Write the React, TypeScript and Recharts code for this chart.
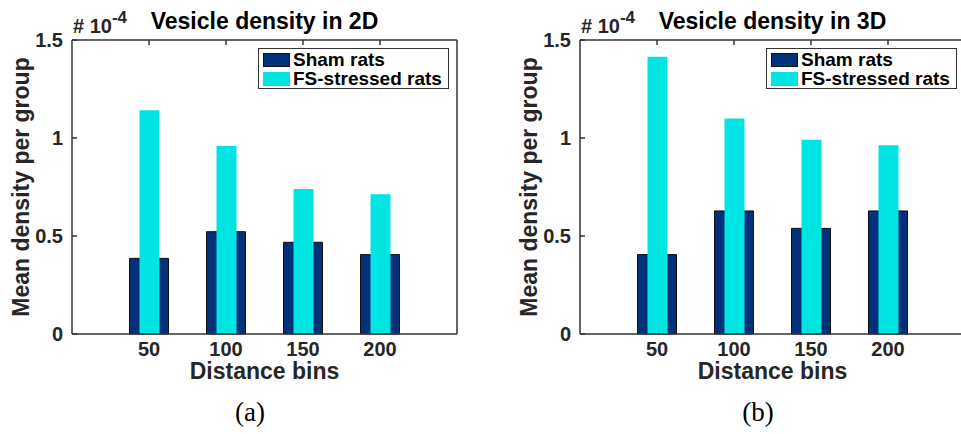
import { BarChart, Bar, XAxis, YAxis, Legend } from "recharts";

const bins = ["50", "100", "150", "200"];
const sham2D = [0.386, 0.522, 0.468, 0.405];
const fs2D = [1.141, 0.959, 0.74, 0.713];
const sham3D = [0.405, 0.628, 0.539, 0.628];
const fs3D = [1.415, 1.1, 0.991, 0.963];
const yTicks = [0, 0.5, 1, 1.5];
const seriesNames = ["Sham rats", "FS-stressed rats"];

const NAVY = "#02307a";
const CYAN = "#00e5e3";
const AXIS = "#333333";
const TEXT = "#262626";
const FONT = "'Liberation Sans', Arial, Helvetica, sans-serif";
const seriesColors = [NAVY, CYAN];

// legend drawn in MATLAB order (Recharts sorts the payload by name)
const LegendBox = () => (
	<div
		style={{
			borderWidth: 1,
			borderStyle: "solid",
			borderColor: AXIS,
			background: "#fff",
			padding: "2px 4px",
			fontFamily: FONT,
			fontWeight: "bold",
			fontSize: 19,
			color: "#000",
			boxSizing: "border-box",
			height: 41,
			width: 191,
		}}>
		{seriesNames.map((name, i) => (
			<div key={name} style={{ display: "flex", alignItems: "center", height: 18.5 }}>
				<span
					style={{
						display: "inline-block",
						width: 27,
						height: 14,
						background: seriesColors[i],
						borderWidth: i === 0 ? 1 : 0,
						borderStyle: "solid",
						borderColor: "#111",
						boxSizing: "border-box",
						marginRight: 3,
					}}
				/>
				<span style={{ lineHeight: "18px" }}>{name}</span>
			</div>
		))}
	</div>
);

const Panel = ({ sham, fs, left, width, marginLeft, marginRight, legendLeft }: any) => {
	const data = bins.map((b, i) => ({ bin: b, sham: sham[i], fs: fs[i] }));
	const pad = { left: 38.5, right: 38.5 };
	const tickFont = { fill: TEXT, fontSize: 20, fontWeight: "bold", fontFamily: FONT };
	const line = { stroke: AXIS, strokeWidth: 1.5 };
	return (
		<div style={{ position: "absolute", left, top: 0 }}>
			<BarChart
				width={width}
				height={434}
				data={data}
				margin={{ top: 39, right: marginRight, bottom: 40, left: marginLeft }}>
				<XAxis
					xAxisId="bottom"
					dataKey="bin"
					padding={pad}
					height={60}
					axisLine={line}
					tickLine={false}
					tick={tickFont}
					label={{
						value: "Distance bins",
						position: "insideBottom",
						offset: 15,
						fill: TEXT,
						fontSize: 23,
						fontWeight: "bold",
						fontFamily: FONT,
					}}
				/>
				<XAxis xAxisId="front" dataKey="bin" padding={pad} hide />
				<XAxis
					xAxisId="top"
					orientation="top"
					dataKey="bin"
					padding={pad}
					height={1}
					axisLine={line}
					tickLine={line}
					tickSize={-5}
					tickFormatter={() => ""}
				/>
				<YAxis
					yAxisId="left"
					domain={[0, 1.5]}
					ticks={yTicks}
					width={60}
					axisLine={line}
					tickLine={line}
					tickSize={-5}
					tickMargin={14}
					tick={tickFont}
				/>
				<YAxis
					yAxisId="right"
					orientation="right"
					domain={[0, 1.5]}
					ticks={yTicks}
					width={1}
					axisLine={line}
					tickLine={line}
					tickSize={-5}
					tickFormatter={() => ""}
				/>
				<Legend
					layout="horizontal"
					verticalAlign="middle"
					align="center"
					content={<LegendBox />}
					wrapperStyle={{ position: "absolute", left: legendLeft, top: 48, width: 191, height: 41 }}
				/>
				<Bar
					xAxisId="bottom"
					yAxisId="left"
					dataKey="sham"
					name={seriesNames[0]}
					fill={NAVY}
					stroke="#111"
					strokeWidth={1}
					barSize={39}
					isAnimationActive={false}
				/>
				<Bar
					xAxisId="front"
					yAxisId="left"
					dataKey="fs"
					name={seriesNames[1]}
					fill={CYAN}
					barSize={20}
					isAnimationActive={false}
				/>
			</BarChart>
		</div>
	);
};

const Texts = ({ plotLeft, center, title, caption, captionX }: any) => (
	<g>
		<text x={center} y={29} textAnchor="middle" fontFamily={FONT} fontWeight="bold" fontSize={23} fill="#000">
			{title}
		</text>
		<text x={plotLeft + 1} y={33} fontFamily={FONT} fontWeight="bold" fontSize={20} fill={TEXT}>
			# 10
			<tspan fontSize={17} dy={-10}>
				-4
			</tspan>
		</text>
		<text
			x={plotLeft - 43}
			y={187}
			transform={`rotate(-90, ${plotLeft - 43}, 187)`}
			textAnchor="middle"
			fontFamily={FONT}
			fontWeight="bold"
			fontSize={23}
			fill={TEXT}>
			Mean density per group
		</text>
		<text x={captionX} y={421} textAnchor="middle" fontFamily="'Liberation Serif', 'DejaVu Serif', serif" fontSize={27} fill="#000">
			{caption}
		</text>
	</g>
);

export default function App() {
	return (
		<div
			style={{
				position: "absolute",
				left: 0,
				top: 0,
				width: 961,
				height: 434,
				overflow: "hidden",
				background: "#fff",
			}}>
			<Panel sham={sham2D} fs={fs2D} left={0} width={480} marginLeft={12} marginRight={22} legendLeft={258} />
			<Panel sham={sham3D} fs={fs3D} left={480} width={500} marginLeft={40} marginRight={14} legendLeft={286} />
			<svg width={961} height={434} style={{ position: "absolute", left: 0, top: 0, pointerEvents: "none" }}>
				<Texts plotLeft={72} center={264.5} title="Vesicle density in 2D" caption="(a)" captionX={250} />
				<Texts plotLeft={580} center={772.5} title="Vesicle density in 3D" caption="(b)" captionX={758} />
			</svg>
		</div>
	);
}
